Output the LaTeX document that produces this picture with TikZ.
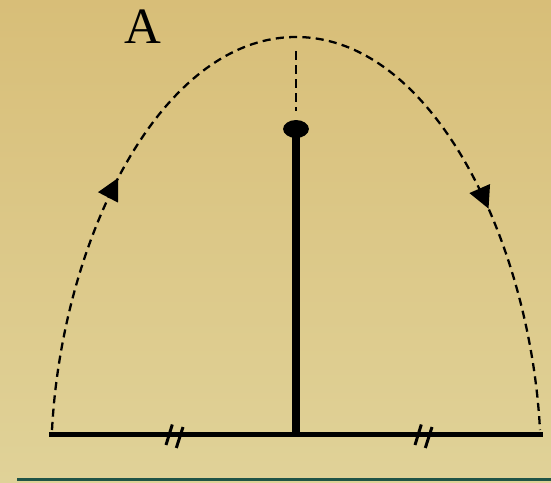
\documentclass[tikz,border=0pt]{standalone}
\usepackage{fontspec}
\setmainfont{Liberation Serif}
\usetikzlibrary{arrows.meta,shapes.geometric,decorations.markings}
\definecolor{parchtop}{RGB}{216,190,120}
\definecolor{parchbot}{RGB}{224,210,152}
\definecolor{rulegreen}{RGB}{32,84,70}
\tikzset{
  orbit/.style={line width=1.3pt, dash pattern=on 4.6pt off 3pt,
               postaction={decorate}, decoration={markings,
               mark=at position 0.262 with {\arrow{Triangle[length=12.5pt,width=12.5pt]}},
               mark=at position 0.772 with {\arrow{Triangle[length=12.5pt,width=12.5pt]}}}},
  bob/.style={ellipse, fill=black, inner sep=0pt, minimum width=14.7pt, minimum height=10.2pt},
  tickln/.style={line width=1.7pt},
}
\begin{document}
\begin{tikzpicture}[x=0.02cm, y=-0.02cm]
        \shade[top color=parchtop,bottom color=parchbot](0,0) rectangle (551,483);
        \useasboundingbox (0,0) rectangle (551,483);
        \node[font=\fontsize{29}{29}\selectfont,inner sep=0pt](lblA) at (142.5,27){A};
        \coordinate (L) at (52,430); \coordinate (R) at (540,430); \coordinate (apex) at (296,37);
        \coordinate (hl) at (49,434.5); \coordinate (hr) at (543,434.5); \coordinate (base) at (296,434.5);
        \node[bob](ball) at (296,129){};
        \draw[orbit](L) .. controls (62,240) and (160,37) .. (apex) .. controls (432,37) and (530,240) .. (R);
        \draw[line width=0.7pt,dash pattern=on 5pt off 3pt,shorten <=8pt,shorten >=5.2pt](apex)--(ball.north);
        \draw[line width=4.5pt](ball.center)--(base);
        \draw[line width=3.2pt](hl)--(hr);
        \foreach \cx in {174.5,423.5}{
          \draw[tickln](\cx-8.5,445)--(\cx-2.2,424.5);
          \draw[tickln](\cx+1.8,448)--(\cx+8.5,427);
        }
        \draw[rulegreen,line width=1.4pt](17,479.5)--(551,479.5);
    \end{tikzpicture}
\end{document}
